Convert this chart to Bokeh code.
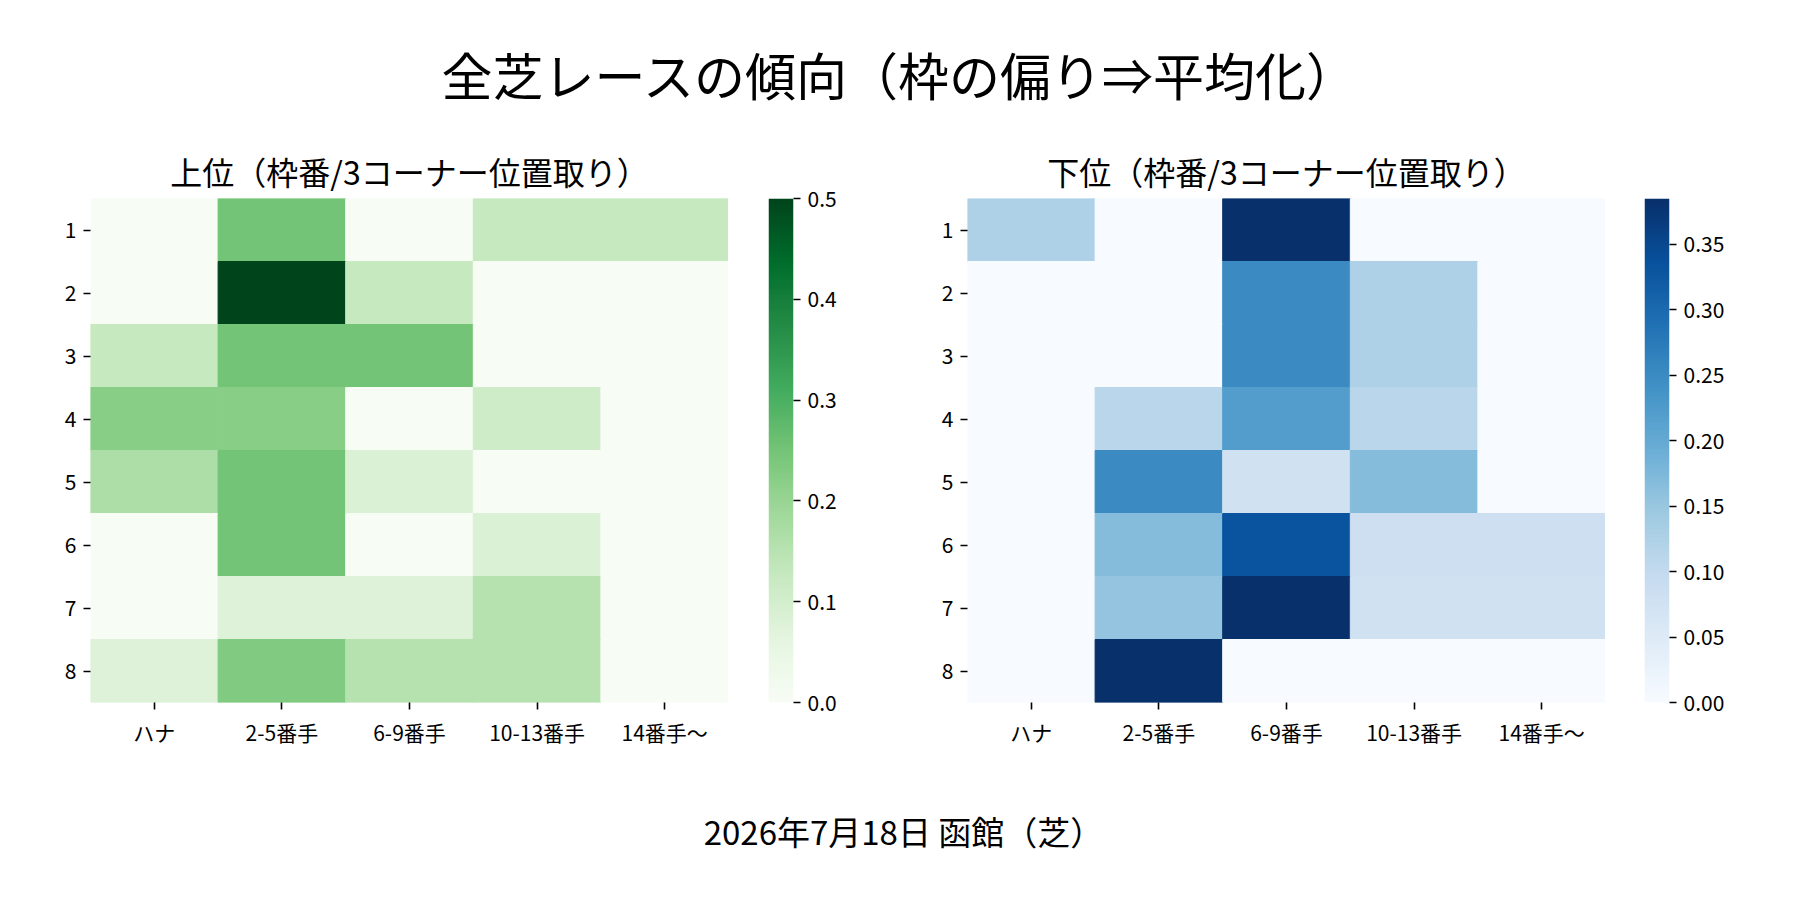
import numpy as np
from bokeh.plotting import figure
from bokeh.models import (ColumnDataSource, LinearColorMapper, FactorRange, Range1d,
                          FixedTicker, PrintfTickFormatter)
from bokeh.layouts import column, row
from bokeh.transform import transform
from bokeh.core.properties import value
from bokeh.embed import file_html
from bokeh.resources import INLINE

FONT = "Noto Sans CJK JP"

# ---------------- data ----------------
suptitle = "全芝レースの傾向（枠の偏り⇒平均化）"
footer = "2026年7月18日 函館（芝）"
upper_title = "上位（枠番/3コーナー位置取り）"
lower_title = "下位（枠番/3コーナー位置取り）"

frame_labels = ["1", "2", "3", "4", "5", "6", "7", "8"]
position_labels = ["ハナ", "2-5番手", "6-9番手", "10-13番手", "14番手〜"]

upper_values = [
    [0.000, 0.250, 0.000, 0.125, 0.125],
    [0.000, 0.500, 0.125, 0.000, 0.000],
    [0.125, 0.250, 0.250, 0.000, 0.000],
    [0.222, 0.222, 0.000, 0.111, 0.000],
    [0.167, 0.250, 0.083, 0.000, 0.000],
    [0.000, 0.250, 0.000, 0.083, 0.000],
    [0.000, 0.077, 0.077, 0.154, 0.000],
    [0.077, 0.231, 0.154, 0.154, 0.000],
]
lower_values = [
    [0.125, 0.000, 0.385, 0.000, 0.000],
    [0.000, 0.000, 0.250, 0.125, 0.000],
    [0.000, 0.000, 0.250, 0.125, 0.000],
    [0.000, 0.111, 0.222, 0.111, 0.000],
    [0.000, 0.250, 0.077, 0.167, 0.000],
    [0.000, 0.167, 0.333, 0.083, 0.083],
    [0.000, 0.154, 0.385, 0.077, 0.077],
    [0.000, 0.385, 0.000, 0.000, 0.000],
]
upper_ticks = [0.0, 0.1, 0.2, 0.3, 0.4, 0.5]
lower_ticks = [0.00, 0.05, 0.10, 0.15, 0.20, 0.25, 0.30, 0.35]

greens = ["#f7fcf5", "#e5f5e0", "#c7e9c0", "#a1d99b", "#74c476",
          "#41ab5d", "#238b45", "#006d2c", "#00441b"]
blues = ["#f7fbff", "#deebf7", "#c6dbef", "#9ecae1", "#6baed6",
         "#4292c6", "#2171b5", "#08519c", "#08306b"]

# ---------------- layout constants ----------------
TOP_H = 128
ROW_H = 660
BOT_H = 112
TOP_B = 70
BOT_B = 86
BAR_W = 25


def make_palette(hexes, n=256):
    rgb = np.array([[int(h[i:i + 2], 16) for i in (1, 3, 5)] for h in hexes], float)
    pos = np.linspace(0, 1, len(hexes))
    out = []
    for t in np.linspace(0, 1, n):
        c = [int(round(np.interp(t, pos, rgb[:, k]))) for k in range(3)]
        out.append("#%02x%02x%02x" % tuple(c))
    return out


def style_axis(ax, size="21px"):
    ax.axis_line_color = None
    ax.major_tick_line_color = "black"
    ax.major_tick_line_width = 1.6
    ax.major_tick_out = 7
    ax.major_tick_in = 0
    ax.minor_tick_line_color = None
    ax.major_label_text_font = FONT
    ax.major_label_text_font_size = size
    ax.major_label_text_color = "black"
    ax.major_label_standoff = 7


def heatmap(values, hexes, title, width, left):
    vmax = max(max(r) for r in values)
    mapper = LinearColorMapper(palette=make_palette(hexes), low=0, high=vmax)
    xs, ys, vs = [], [], []
    for i, fr in enumerate(frame_labels):
        for j, pos in enumerate(position_labels):
            xs.append(pos)
            ys.append(fr)
            vs.append(values[i][j])
    src = ColumnDataSource(dict(x=xs, y=ys, v=vs))
    p = figure(width=width, height=ROW_H,
               x_range=FactorRange(factors=position_labels),
               y_range=FactorRange(factors=frame_labels[::-1]),
               output_backend="svg", toolbar_location=None,
               min_border_left=left, min_border_right=0,
               min_border_top=TOP_B, min_border_bottom=BOT_B,
               title=title)
    p.rect(x="x", y="y", width=1, height=1, source=src,
           fill_color=transform("v", mapper), line_color=transform("v", mapper),
           line_width=1)
    p.grid.visible = False
    p.outline_line_color = None
    p.background_fill_color = "white"
    p.border_fill_color = "white"
    style_axis(p.xaxis[0])
    style_axis(p.yaxis[0])
    p.title.text_font = FONT
    p.title.text_font_size = "32px"
    p.title.text_font_style = "normal"
    p.title.text_color = "black"
    p.title.align = "center"
    p.title.standoff = 10
    return p, mapper, vmax


def colorbar_fig(mapper, vmax, ticks, fmt, width, left):
    p = figure(width=width, height=ROW_H,
               x_range=Range1d(0, 1), y_range=Range1d(0, vmax),
               x_axis_location=None, y_axis_location="right",
               output_backend="svg", toolbar_location=None,
               min_border_left=left, min_border_right=width - left - BAR_W,
               min_border_top=TOP_B, min_border_bottom=BOT_B)
    grad = np.linspace(0, vmax, 256).reshape(256, 1)
    p.image(image=[grad], x=0, y=0, dw=1, dh=vmax, color_mapper=mapper)
    p.grid.visible = False
    p.outline_line_color = None
    ax = p.yaxis[0]
    style_axis(ax)
    ax.ticker = FixedTicker(ticks=ticks)
    ax.formatter = PrintfTickFormatter(format=fmt)
    return p


p1, m1, v1 = heatmap(upper_values, greens, upper_title, 728, 90)
cb1 = colorbar_fig(m1, v1, upper_ticks, "%.1f", 159, 40)
p2, m2, v2 = heatmap(lower_values, blues, lower_title, 718, 80)
cb2 = colorbar_fig(m2, v2, lower_ticks, "%.2f", 140, 39)


def text_fig(txt, h, x, y, size):
    f = figure(width=1800, height=h, x_range=Range1d(0, 1800), y_range=Range1d(0, h),
               x_axis_location=None, y_axis_location=None,
               output_backend="svg", toolbar_location=None, min_border=0)
    f.grid.visible = False
    f.outline_line_color = None
    f.text(x=[x], y=[y], text=[txt], text_font=value(FONT), text_font_size=size,
           text_align="center", text_baseline="middle", text_color="black")
    return f


top = text_fig(suptitle, TOP_H, 900, TOP_H - 73.5, "51px")
bottom = text_fig(footer, BOT_H, 903, BOT_H - 42.5, "33px")

layout = column(top, row(p1, cb1, p2, cb2), bottom)
open("out.html", "w").write(file_html(layout, INLINE))
